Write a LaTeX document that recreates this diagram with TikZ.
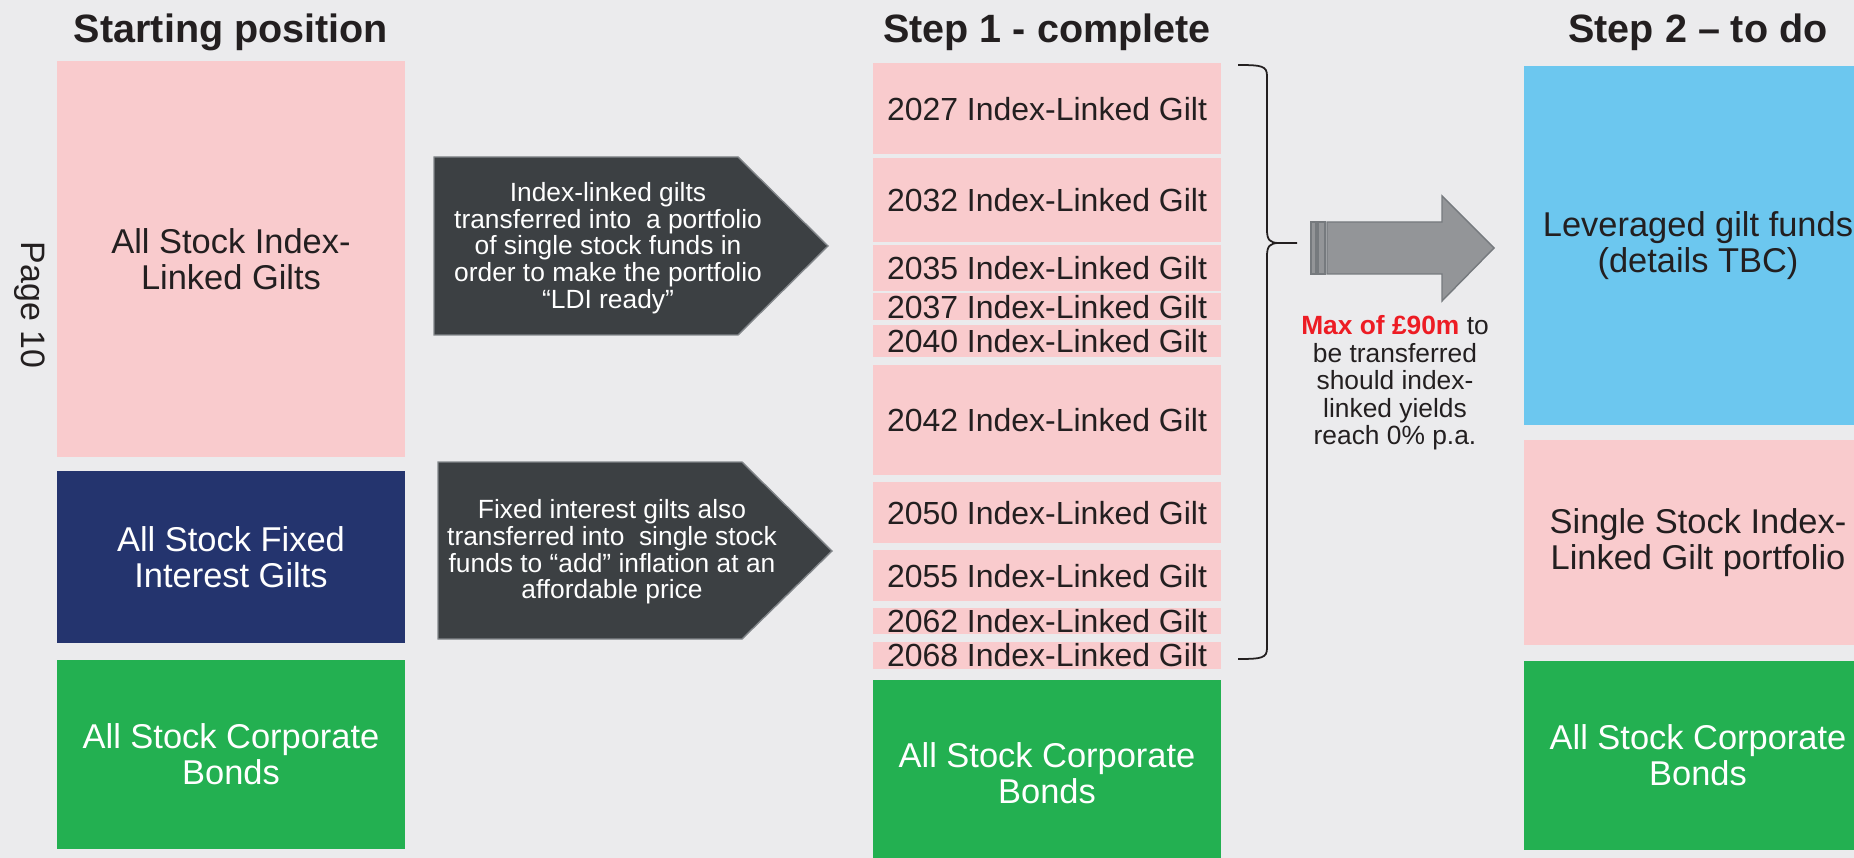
\documentclass[tikz,border=0pt]{standalone}
\usepackage{fontspec}
\setmainfont{Liberation Sans}
\usepackage{tikz}
\usetikzlibrary{positioning,calc}

\definecolor{bgGrey}{RGB}{235,235,237}
\definecolor{giltPink}{RGB}{249,203,205}
\definecolor{navyBlue}{RGB}{36,52,110}
\definecolor{bondGreen}{RGB}{35,176,81}
\definecolor{skyBlue}{RGB}{108,199,239}
\definecolor{darkArrow}{RGB}{60,64,67}
\definecolor{darkEdge}{RGB}{130,134,138}
\definecolor{greyArrow}{RGB}{147,149,152}
\definecolor{greyEdge}{RGB}{118,122,126}
\definecolor{inkDark}{RGB}{35,31,32}
\definecolor{maxRed}{RGB}{237,28,36}

\begin{document}
\begin{tikzpicture}[
    x=0.02cm, y=-0.02cm,
    node distance=0.2cm,
    block/.style={rectangle, inner sep=0pt, minimum width=6.96cm, align=center, font=\fontsize{19.6}{20.5}\selectfont},
    pinkblock/.style={block, fill=giltPink, text=inkDark},
    navyblock/.style={block, fill=navyBlue, text=white},
    greenblock/.style={block, fill=bondGreen, text=white},
    blueblock/.style={block, fill=skyBlue, text=inkDark},
    giltblock/.style={rectangle, inner sep=0pt, minimum width=6.96cm, fill=giltPink, text=inkDark, font=\fontsize{18.2}{19}\selectfont},
    heading/.style={anchor=base, text=inkDark, font=\fontsize{22.5}{27}\selectfont\bfseries},
    darkarrow/.style={fill=darkArrow, draw=darkEdge, line width=0.8pt},
    greyarrow/.style={fill=greyArrow, draw=greyEdge, line width=0.8pt},
    arrowtext/.style={align=center, text=white, inner sep=0pt, font=\fontsize{15}{15.2}\selectfont},
    notetext/.style={align=center, text=inkDark, inner sep=0pt, font=\fontsize{15}{15.6}\selectfont}
]
    \fill[bgGrey] (0,0) rectangle (1854,858);
    \useasboundingbox (0,0) rectangle (1854,858);

    \node [heading] (head0) at (231,43) {Starting position};
    \node [heading] (head1) at (1047,43) {Step 1 - complete};
    \node [heading] (head2) at (1698,43) {Step 2 – to do};

    \node [rotate=-90, text=inkDark, inner sep=0pt, font=\fontsize{19.3}{20}\selectfont] (pagenum) at (30,305) {Page 10};

    \node [pinkblock, minimum height=7.92cm, anchor=north] (ilg) at (231,61) {All Stock Index-\\Linked Gilts};
    \node [navyblock, minimum height=3.44cm, below=0.26cm of ilg] (fig) {All Stock Fixed\\Interest Gilts};
    \node [greenblock, minimum height=3.78cm, below=0.32cm of fig] (corp0) {All Stock Corporate\\Bonds};

    \draw [darkarrow] (434,157) -- (738,157) -- (828,246) -- (738,335) -- (434,335) -- cycle;
    \node [arrowtext] (ilgtext) at (608,248) {Index-linked gilts\\transferred into\ \ a portfolio\\of single stock funds in\\order to make the portfolio\\“LDI ready”};
    \draw [darkarrow] (438,462) -- (742,462) -- (832,551) -- (742,639) -- (438,639) -- cycle;
    \node [arrowtext] (figtext) at (612,552) {Fixed interest gilts also\\transferred into\ \ single stock\\funds to “add” inflation at an\\affordable price};

    \node [giltblock, minimum height=1.82cm, anchor=north] (g2027) at (1047,63) {2027 Index-Linked Gilt};
    \node [giltblock, minimum height=1.68cm, below=0.06cm of g2027] (g2032) {2032 Index-Linked Gilt};
    \node [giltblock, minimum height=0.92cm, below=0.04cm of g2032] (g2035) {2035 Index-Linked Gilt};
    \node [giltblock, minimum height=0.54cm, below=0.04cm of g2035] (g2037) {2037 Index-Linked Gilt};
    \node [giltblock, minimum height=0.64cm, below=0.08cm of g2037] (g2040) {2040 Index-Linked Gilt};
    \node [giltblock, minimum height=2.20cm, below=0.14cm of g2040] (g2042) {2042 Index-Linked Gilt};
    \node [giltblock, minimum height=1.22cm, below=0.14cm of g2042] (g2050) {2050 Index-Linked Gilt};
    \node [giltblock, minimum height=1.02cm, below=0.12cm of g2050] (g2055) {2055 Index-Linked Gilt};
    \node [giltblock, minimum height=0.52cm, below=0.12cm of g2055] (g2062) {2062 Index-Linked Gilt};
    \node [giltblock, minimum height=0.54cm, below=0.14cm of g2062] (g2068) {2068 Index-Linked Gilt};
    \node [greenblock, minimum height=3.72cm, below=0.22cm of g2068] (corp1) {All Stock Corporate\\Bonds};

    \coordinate (braceTop) at (1238,65);
    \coordinate (braceTip) at (1297,243);
    \coordinate (braceBot) at (1238,659);
    \draw [inkDark, line width=1pt] (braceTop) .. controls (1262,65) and (1267,66) .. (1267,76)
        -- (1267,230) .. controls (1267,240) and (1270,243) .. (1279,243) -- (braceTip);
    \draw [inkDark, line width=1pt] (1279,243) .. controls (1270,243) and (1267,246) .. (1267,256)
        -- (1267,648) .. controls (1267,658) and (1262,659) .. (braceBot);

    \draw [greyarrow] (1311,222) rectangle (1316,274);
    \draw [greyarrow] (1318,222) rectangle (1325,274);
    \draw [greyarrow] (1327,222) -- (1442,222) -- (1442,196) -- (1494,248) -- (1442,301) -- (1442,274) -- (1327,274) -- cycle;
    \node [notetext] (maxnote) at (1395,383) {\textcolor{maxRed}{\bfseries Max of £90m} to\\be transferred\\should index-\\linked yields\\reach 0\% p.a.};

    \node [blueblock, minimum height=7.18cm, anchor=north] (lev) at (1698,66) {Leveraged gilt funds\\(details TBC)};
    \node [pinkblock, minimum height=4.10cm, below=0.28cm of lev] (ssilg) {Single Stock Index-\\Linked Gilt portfolio};
    \node [greenblock, minimum height=3.78cm, below=0.30cm of ssilg] (corp2) {All Stock Corporate\\Bonds};
\end{tikzpicture}
\end{document}
